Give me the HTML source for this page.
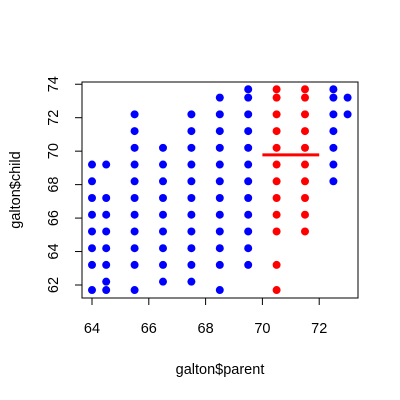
<!DOCTYPE html>
<html><head><style>body{margin:0;background:#fff}svg{display:block;font-family:"Liberation Sans",Arial,sans-serif}</style></head>
<body>
<svg id="chart" width="400" height="400" viewBox="0 0 400 400">
<rect x="82" y="82" width="276" height="216" fill="none" stroke="#000" stroke-width="1"/>
<g id="xaxis"></g>
<g id="yaxis"></g>
<g id="pts"></g>
<text x="220" y="374" font-size="14.5" text-anchor="middle">galton$parent</text>
<text transform="translate(20,190) rotate(-90)" font-size="14.5" text-anchor="middle">galton$child</text>
</svg>
<script>
const parents=[64,64.5,65.5,66.5,67.5,68.5,69.5,70.5,71.5,72.5,73];
const childrenByParent=[
[69.2,68.2,67.2,66.2,65.2,64.2,63.2,61.7],
[69.2,67.2,66.2,65.2,64.2,63.2,62.2,61.7],
[72.2,71.2,70.2,69.2,68.2,67.2,66.2,65.2,64.2,63.2,61.7],
[70.2,69.2,68.2,67.2,66.2,65.2,64.2,63.2,62.2],
[72.2,71.2,70.2,69.2,68.2,67.2,66.2,65.2,64.2,63.2,62.2],
[73.2,72.2,71.2,70.2,69.2,68.2,67.2,66.2,65.2,64.2,63.2,61.7],
[73.7,73.2,72.2,71.2,70.2,69.2,68.2,67.2,66.2,65.2,64.2,63.2],
[73.7,73.2,72.2,71.2,70.2,69.2,68.2,67.2,66.2,65.2,63.2,61.7],
[73.7,73.2,72.2,71.2,70.2,69.2,68.2,67.2,66.2,65.2],
[73.7,73.2,72.2,71.2,70.2,69.2,68.2],
[73.2,72.2]];
const redRange=[70,72];
const meanLine=[70,72,69.78];
const xTicks=[64,66,68,70,72];
const yTicks=[62,64,66,68,70,72,74];
const NS='http://www.w3.org/2000/svg';
const sx=v=>92+(v-64)*28.4;
const sy=v=>285-(v-62)*16.73;
function mk(t,a,p){const e=document.createElementNS(NS,t);for(const k in a)e.setAttribute(k,a[k]);p.appendChild(e);return e;}
const xa=document.getElementById('xaxis'),ya=document.getElementById('yaxis'),pg=document.getElementById('pts');
xTicks.forEach(t=>{const x=sx(t);
const l=mk('line',{x1:x,x2:x,y1:298,y2:305,stroke:'#000'},xa);


const tx=mk('text',{x:x,y:333,'font-size':14.5,'text-anchor':'middle'},xa);tx.textContent=t;

});
yTicks.forEach(t=>{const y=sy(t);
const l=mk('line',{x1:75,x2:82,y1:y,y2:y,stroke:'#000'},ya);


const tx=mk('text',{transform:`translate(58,${y}) rotate(-90)`,'font-size':14.5,'text-anchor':'middle'},ya);tx.textContent=t;

});
parents.forEach((p,i)=>childrenByParent[i].forEach(c=>{
const red=p>=redRange[0]&&p<=redRange[1];
const d=mk('circle',{cx:sx(p),cy:sy(c),r:4,fill:red?'#ff0000':'#0000ff'},pg);

}));
const ml=mk('line',{x1:sx(meanLine[0]),x2:sx(meanLine[1]),y1:sy(meanLine[2]),y2:sy(meanLine[2]),stroke:'#ff0000','stroke-width':3},pg);


</script>
</body></html>
